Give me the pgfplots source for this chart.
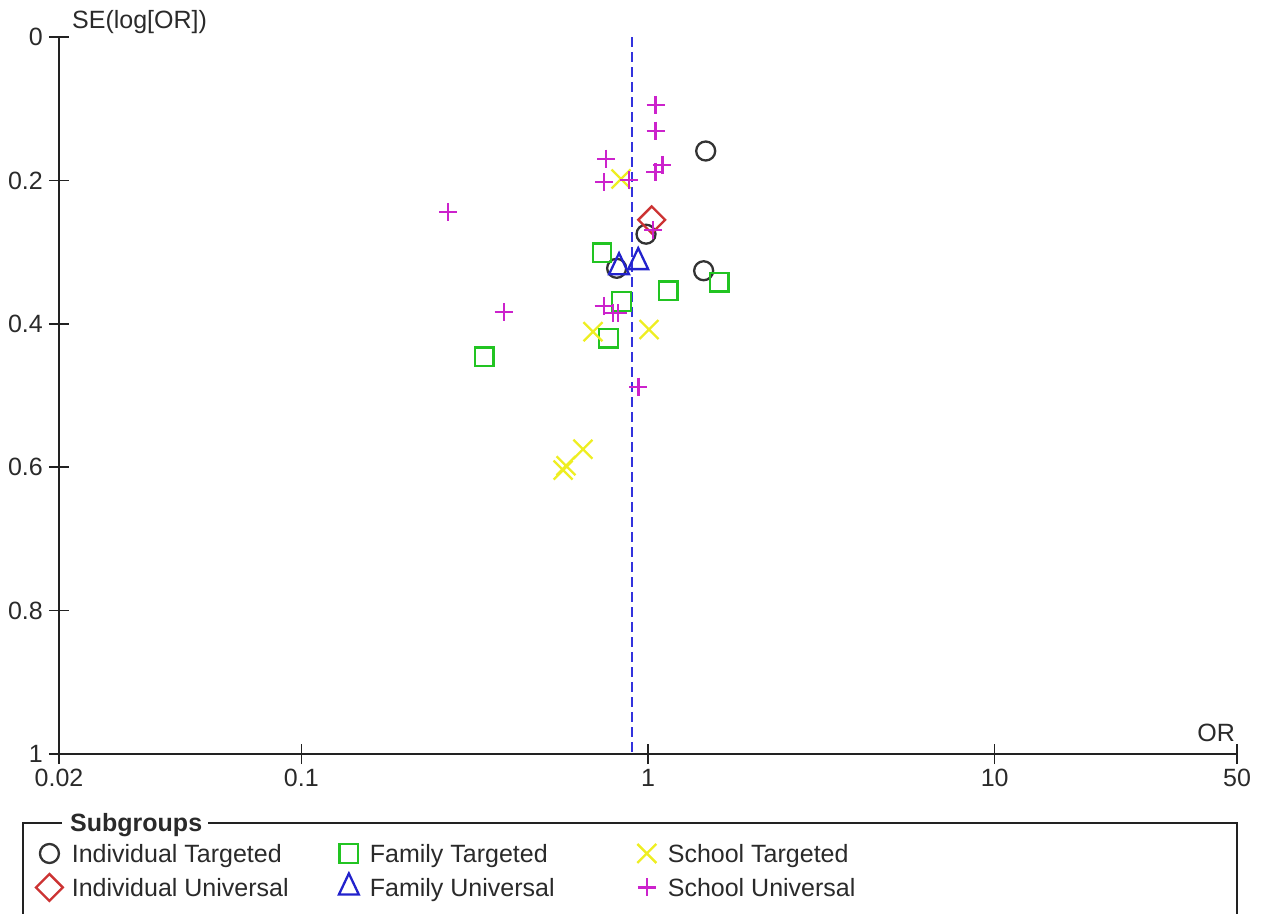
\documentclass[border=0pt]{standalone}
\usepackage{fontspec}
\setmainfont{Liberation Sans}
\usepackage{pgfplots}
\pgfplotsset{compat=1.18}
\definecolor{cAx}{HTML}{222222}
\definecolor{cTx}{HTML}{2A2A2A}
\definecolor{cIT}{HTML}{333333}
\definecolor{cIU}{HTML}{CC3333}
\definecolor{cFT}{HTML}{22C422}
\definecolor{cFU}{HTML}{2222CC}
\definecolor{cST}{HTML}{EEEE22}
\definecolor{cSU}{HTML}{CC22CC}
\definecolor{cDash}{HTML}{3333DD}
\pgfplotsset{
  sIT/.style={only marks, mark=o, mark size=9.5pt, mark options={line width=2.3pt, draw=cIT}},
  sIU/.style={only marks, mark=square, mark size=9.5pt, mark options={rotate=45, line width=2.3pt, draw=cIU}},
  sFT/.style={only marks, mark=square, mark size=9.3pt, mark options={line width=2.3pt, draw=cFT}},
  sFU/.style={only marks, mark=triangle, mark size=14pt, mark options={xscale=0.82, line width=2.3pt, draw=cFU}},
  sST/.style={only marks, mark=x, mark size=13.4pt, mark options={line width=2.3pt, draw=cST}},
  sSU/.style={only marks, mark=+, mark size=9pt, mark options={line width=2.3pt, draw=cSU}},
}
\begin{document}
\fontsize{25}{30}\selectfont
\begin{tikzpicture}
\useasboundingbox (0,0) rectangle (1263pt,913pt);
\begin{axis}[
  at={(59pt,159pt)}, anchor=south west,
  scale only axis, width=1178pt, height=717pt,
  xmode=log, xmin=0.02, xmax=50, ymin=0, ymax=1, y dir=reverse,
  axis lines=left, axis line style={-, line width=1.8pt, color=cAx},
  xtick={0.02,0.1,1,10,50}, xticklabels={0.02,0.1,1,10,50},
  ytick={0,0.2,0.4,0.6,0.8,1}, yticklabels={0,0.2,0.4,0.6,0.8,1},
  xminorticks=false, yminorticks=false,
  tick align=center, major tick length=20pt,
  tick style={line width=1.6pt, color=cAx},
  xticklabel style={anchor=north, inner sep=0pt, yshift=-5pt, text=cTx},
  yticklabel style={anchor=east, inner sep=0pt, xshift=-6pt, text=cTx},
  clip=false,
  font=\fontsize{25}{30}\selectfont,
  legend columns=3,
  legend cell align=left,
  legend style={at={(axis description cs:-0.01952,-0.1255)}, anchor=north west,
    draw=none, fill=none, inner sep=0pt, outer sep=0pt, row sep=5pt,
    nodes={inner sep=0pt, text height=18pt, text depth=6pt, text=cTx},
    font=\fontsize{25}{30}\selectfont,
    /tikz/every odd column/.append style={column sep=9pt},
    /tikz/every even column/.append style={column sep=0pt}},
  legend image code/.code={\path[draw=none] (-12pt,0pt) -- (12pt,0pt); \draw[#1] plot coordinates {(0pt,3pt)};},
]
\addplot[forget plot, dash pattern=on 10pt off 5pt, line width=2.6pt, color=cDash] coordinates {(0.899,0) (0.899,1)};
% Individual Targeted
\addplot[sIT, forget plot] coordinates {(1.467,0.159) (0.987,0.275) (1.447,0.326) (0.812,0.3226)};
% Individual Universal
\addplot[sIU, forget plot] coordinates {(1.025,0.255)};
% Family Targeted
\addplot[sFT, forget plot] coordinates {(0.737,0.301) (1.606,0.342) (1.144,0.354) (0.839,0.369) (0.770,0.420) (0.337,0.446)};
% Family Universal
\addplot[sFU, forget plot] coordinates {(0.825,0.321) (0.937,0.314)};
% School Targeted
\addplot[sST, forget plot] coordinates {(0.836,0.198) (0.694,0.411) (1.007,0.408) (0.649,0.575) (0.580,0.598) (0.569,0.604)};
% School Universal
\addplot[sSU, forget plot] coordinates {(1.052,0.0948) (1.052,0.1307) (0.757,0.1697) (1.10,0.1785) (1.05,0.188) (0.747,0.2027) (0.882,0.1994) (0.2655,0.244) (1.036,0.269) (0.745,0.375) (0.791,0.385) (0.818,0.385) (0.3835,0.384) (0.938,0.4877)};
\addlegendimage{sIT}\addlegendentry{\makebox[265pt][l]{Individual Targeted}}
\addlegendimage{sFT}\addlegendentry{\makebox[265pt][l]{Family Targeted}}
\addlegendimage{sST}\addlegendentry{\makebox[265pt][l]{School Targeted}}
\addlegendimage{sIU}\addlegendentry{\makebox[265pt][l]{Individual Universal}}
\addlegendimage{sFU}\addlegendentry{\makebox[265pt][l]{Family Universal}}
\addlegendimage{sSU}\addlegendentry{\makebox[265pt][l]{School Universal}}
\end{axis}
\node[anchor=base west, inner sep=0pt, text=cTx] at (72pt,884pt) {SE(log[OR])};
\node[anchor=base east, inner sep=0pt, text=cTx] at (1235pt,171pt) {OR};
\draw[line width=1.6pt, color=cAx] (62pt,90pt) -- (23pt,90pt) -- (23pt,-10pt);
\draw[line width=1.6pt, color=cAx] (208pt,90pt) -- (1237pt,90pt) -- (1237pt,-10pt);
\node[anchor=base west, inner sep=0pt, text=cTx, font=\bfseries] at (70pt,82pt) {Subgroups};
\end{tikzpicture}
\end{document}
